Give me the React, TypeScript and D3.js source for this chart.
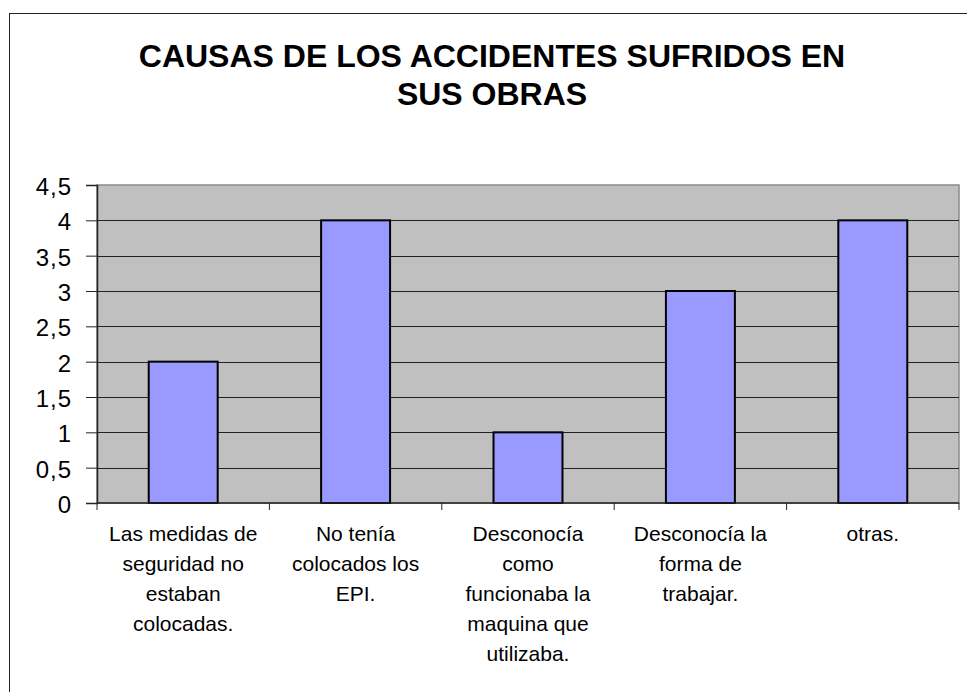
import React, { useEffect, useRef } from "react";
import * as d3 from "d3";

// chart data
const categories = [
  "Las medidas de seguridad no estaban colocadas.",
  "No tenía colocados los EPI.",
  "Desconocía como funcionaba la maquina que utilizaba.",
  "Desconocía la forma de trabajar.",
  "otras.",
];
const categoryLines = [
  ["Las medidas de", "seguridad no", "estaban", "colocadas."],
  ["No tenía", "colocados los", "EPI."],
  ["Desconocía", "como", "funcionaba la", "maquina que", "utilizaba."],
  ["Desconocía la", "forma de", "trabajar."],
  ["otras."],
];
const values = [2, 4, 1, 3, 4];
const yTicks = [0, 0.5, 1, 1.5, 2, 2.5, 3, 3.5, 4, 4.5];
const titleLines = ["CAUSAS DE LOS ACCIDENTES SUFRIDOS EN", "SUS OBRAS"];

const W = 967;
const H = 692;

const App = () => {
  const svgRef = useRef<SVGSVGElement>(null);

  useEffect(() => {
    const svg = d3.select(svgRef.current);
    svg.selectAll("*").remove();

    const font = "Arial, 'Liberation Sans', sans-serif";
    const plot = { left: 97, right: 959, top: 185, bottom: 503 };

    // outer chart frame (runs past the picture on the right and bottom)
    svg
      .append("rect")
      .attr("x", 9.5)
      .attr("y", 13.5)
      .attr("width", 1000)
      .attr("height", 1000)
      .attr("fill", "white")
      .attr("stroke", "#222")
      .attr("stroke-width", 1);

    // title
    svg
      .append("text")
      .attr("x", 492)
      .attr("y", 67)
      .attr("text-anchor", "middle")
      .attr("font-family", font)
      .attr("font-weight", "bold")
      .attr("font-size", 32)
      .selectAll("tspan")
      .data(titleLines)
      .enter()
      .append("tspan")
      .attr("x", 492)
      .attr("dy", (d, i) => (i === 0 ? 0 : 38))
      .text((d) => d);

    const x = d3
      .scaleBand()
      .domain(categories)
      .range([plot.left, plot.right])
      .paddingInner(0.6)
      .paddingOuter(0.3);

    const y = d3.scaleLinear().domain([0, 4.5]).range([plot.bottom, plot.top]);

    // plot background
    svg
      .append("rect")
      .attr("x", plot.left)
      .attr("y", plot.top)
      .attr("width", plot.right - plot.left)
      .attr("height", plot.bottom - plot.top)
      .attr("fill", "#c0c0c0")
      .attr("stroke", "#8a8a8a")
      .attr("stroke-width", 1.5);

    // gridlines
    svg
      .append("g")
      .selectAll("line")
      .data(yTicks.filter((t) => t > 0 && t < 4.5))
      .enter()
      .append("line")
      .attr("x1", plot.left)
      .attr("x2", plot.right)
      .attr("y1", (d) => Math.round(y(d)) + 0.5)
      .attr("y2", (d) => Math.round(y(d)) + 0.5)
      .attr("stroke", "#222")
      .attr("stroke-width", 1);

    // bars
    svg
      .append("g")
      .selectAll("rect")
      .data(values)
      .enter()
      .append("rect")
      .attr("x", (d, i) => x(categories[i]))
      .attr("y", (d) => y(d))
      .attr("width", x.bandwidth())
      .attr("height", (d) => y(0) - y(d))
      .attr("fill", "#9999ff")
      .attr("stroke", "#000")
      .attr("stroke-width", 2);

    // y axis
    const yAxis = d3
      .axisLeft(y)
      .tickValues(yTicks)
      .tickSize(11)
      .tickFormat((d) => String(d).replace(".", ","));
    const gy = svg
      .append("g")
      .attr("transform", `translate(${plot.left},0)`)
      .call(yAxis);
    gy.select(".domain").attr("stroke", "#222").attr("stroke-width", 1.5);
    gy.selectAll(".tick line").attr("stroke", "#222");
    gy.selectAll(".tick text")
      .attr("x", -25)
      .attr("dy", "0.4em")
      .attr("font-family", font)
      .attr("font-size", 24)
      .attr("letter-spacing", 1)
      .attr("fill", "#000");

    // x axis with ticks at category boundaries
    const step = x.step();
    const boundaries = d3.range(categories.length + 1).map(
      (i) => plot.left + i * step
    );
    const gx = svg.append("g");
    gx.append("line")
      .attr("x1", plot.left)
      .attr("x2", plot.right)
      .attr("y1", plot.bottom)
      .attr("y2", plot.bottom)
      .attr("stroke", "#222")
      .attr("stroke-width", 1.5);
    gx.selectAll(".xt")
      .data(boundaries)
      .enter()
      .append("line")
      .attr("x1", (d) => d)
      .attr("x2", (d) => d)
      .attr("y1", plot.bottom)
      .attr("y2", plot.bottom + 7)
      .attr("stroke", "#222");

    // category labels
    gx.selectAll(".xl")
      .data(categoryLines)
      .enter()
      .append("text")
      .attr("text-anchor", "middle")
      .attr("font-family", font)
      .attr("font-size", 21)
      .attr("fill", "#000")
      .each(function (lines, i) {
        const cx = x(categories[i]) + x.bandwidth() / 2;
        d3.select(this)
          .selectAll("tspan")
          .data(lines)
          .enter()
          .append("tspan")
          .attr("x", cx)
          .attr("y", (d, j) => 541 + j * 30)
          .text((d) => d);
      });
  }, []);

  return (
    <div style={{ position: "absolute", left: 0, top: 0 }}>
      <svg ref={svgRef} width={W} height={H} style={{ display: "block" }} />
    </div>
  );
};

export default App;
